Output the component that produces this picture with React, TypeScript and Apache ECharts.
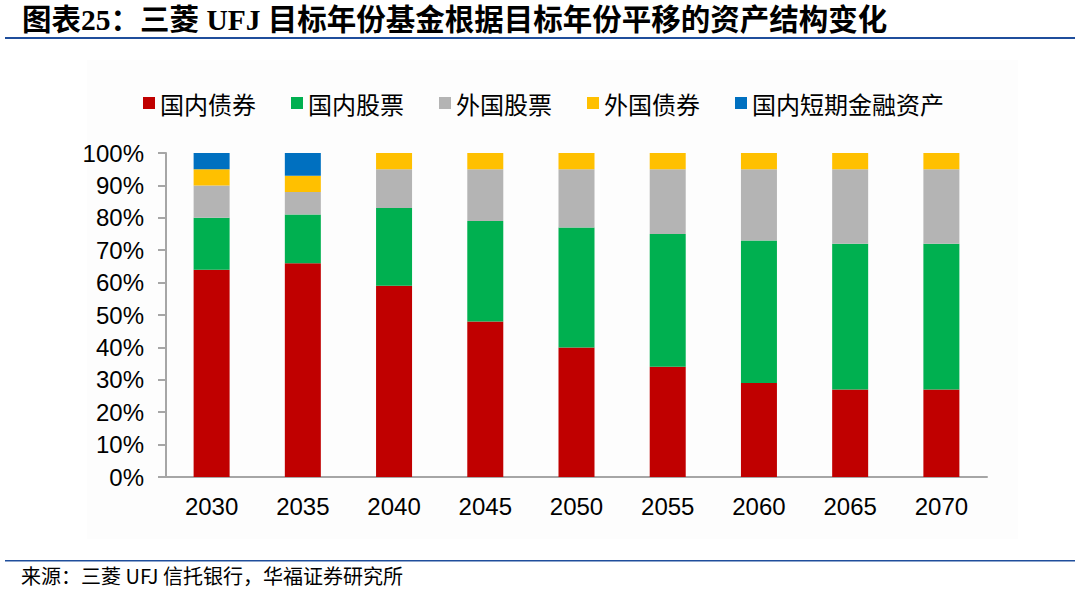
import React, { useEffect, useRef } from "react";
import * as echarts from "echarts";

const categories = ["2030", "2035", "2040", "2045", "2050", "2055", "2060", "2065", "2070"];
const domesticBonds = [64, 66, 59, 48, 40, 34, 29, 27, 27];
const domesticStocks = [16, 15, 24, 31, 37, 41, 44, 45, 45];
const foreignStocks = [10, 7, 12, 16, 18, 20, 22, 23, 23];
const foreignBonds = [5, 5, 5, 5, 5, 5, 5, 5, 5];
const shortTerm = [5, 7, 0, 0, 0, 0, 0, 0, 0];

const seriesNames = ["国内债券", "国内股票", "外国股票", "外国债券", "国内短期金融资产"];
const seriesColors = ["#C00000", "#00B050", "#B4B4B4", "#FFC000", "#0070C0"];
const seriesData = [domesticBonds, domesticStocks, foreignStocks, foreignBonds, shortTerm];

const titleText = "图表25：三菱 UFJ 目标年份基金根据目标年份平移的资产结构变化";
const sourceText = "来源：三菱 UFJ 信托银行，华福证券研究所";

export default function App() {
  const ref = useRef<HTMLDivElement>(null);
  useEffect(() => {
    document.body.style.margin = "0";
    const chart = echarts.init(ref.current!, undefined, { renderer: "svg" });
    chart.setOption({
      animation: false,
      backgroundColor: "#ffffff",
      graphic: [
        { type: "rect", shape: { x: 87, y: 60, width: 931, height: 479 }, style: { fill: "#fdfdfd" }, z: -10 },
        {
          type: "text",
          x: 22,
          y: 20,
          style: {
            text: titleText,
            font: "bold 29.5px 'Liberation Serif', 'Noto Sans CJK SC'",
            fill: "#000",
            textVerticalAlign: "middle",
          },
        },
        { type: "rect", shape: { x: 5, y: 37, width: 1070, height: 2 }, style: { fill: "#1F4E9C" } },
        { type: "rect", shape: { x: 5, y: 560, width: 1070, height: 1.5 }, style: { fill: "#1F4E9C" } },
        {
          type: "text",
          x: 21,
          y: 575,
          style: {
            text: sourceText,
            font: "20px 'Noto Sans CJK SC'",
            fill: "#000",
            textVerticalAlign: "middle",
          },
        },
      ],
      legend: {
        left: 138,
        top: 86,
        itemWidth: 12,
        itemHeight: 12,
        itemGap: 35,
        icon: "rect",
        data: seriesNames,
        textStyle: { fontSize: 24, fontFamily: "'Noto Sans CJK SC'", color: "#000" },
      },
      grid: { left: 166, right: 93, top: 153, bottom: 112, containLabel: false },
      xAxis: {
        type: "category",
        data: categories,
        axisLine: { lineStyle: { color: "#A6A6A6", width: 2 } },
        axisTick: { show: false },
        axisLabel: { fontSize: 24, color: "#000", fontFamily: "'Liberation Sans', Arial", margin: 17 },
      },
      yAxis: {
        type: "value",
        min: 0,
        max: 100,
        interval: 10,
        axisLine: { show: true, lineStyle: { color: "#A6A6A6", width: 2 } },
        axisTick: { show: true, length: 8, lineStyle: { color: "#A6A6A6", width: 2 } },
        splitLine: { show: false },
        axisLabel: {
          formatter: "{value}%",
          fontSize: 24,
          color: "#000",
          fontFamily: "'Liberation Sans', Arial",
          margin: 22,
        },
      },
      series: seriesNames.map((name, i) => ({
        name,
        type: "bar",
        stack: "total",
        barWidth: 36,
        data: seriesData[i],
        itemStyle: { color: seriesColors[i] },
      })),
    });
    return () => chart.dispose();
  }, []);
  return <div ref={ref} style={{ width: 1080, height: 589 }} />;
}
